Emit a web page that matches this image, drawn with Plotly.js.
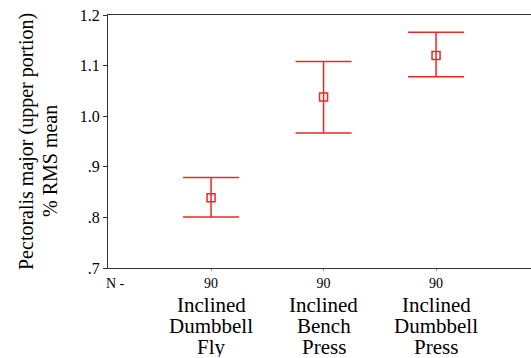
<!DOCTYPE html>
<html>
<head>
<meta charset="utf-8">
<script src="https://cdn.plot.ly/plotly-3.0.1.min.js"></script>
<style>html,body{margin:0;padding:0;background:#fff;}#chart{width:531px;height:358px;}</style>
</head>
<body>
<div id="chart"></div>
<script>
var categories = [
  ["Inclined", "Dumbbell", "Fly"],
  ["Inclined", "Bench", "Press"],
  ["Inclined", "Dumbbell", "Press"]
];
var nLabels = ["90", "90", "90"];
var means = [0.839, 1.038, 1.120];
var upper = [0.879, 1.108, 1.166];
var lower = [0.801, 0.967, 1.078];
var yTickVals = [0.7, 0.8, 0.9, 1.0, 1.1, 1.2];
var yTickText = [".7", ".8", ".9", "1.0", "1.1", "1.2"];

var xIdx = categories.map(function (c, i) { return i; });
var errPlus = means.map(function (m, i) { return upper[i] - m; });
var errMinus = means.map(function (m, i) { return m - lower[i]; });

var red = "rgb(235,40,40)";
var serif = "Liberation Serif";

var trace = {
  x: xIdx,
  y: means,
  type: "scatter",
  mode: "markers",
  marker: { symbol: "square-open", size: 8, color: red, line: { width: 1.5, color: red } },
  error_y: {
    type: "data", symmetric: false,
    array: errPlus, arrayminus: errMinus,
    color: red, thickness: 1.5, width: 28
  },
  hoverinfo: "none",
  showlegend: false
};

var annotations = [];
var lineY = [304, 325.5, 346.5];
categories.forEach(function (c, i) {
  c.forEach(function (t, j) {
    annotations.push({
      x: i, xref: "x", y: (268 - lineY[j]) / 253, yref: "paper",
      text: t, showarrow: false, xanchor: "center", yanchor: "middle",
      height: 21,
      font: { family: serif, size: 21, color: "#000" }
    });
  });
});
annotations.push({
  x: (104 - 108) / 423, xref: "paper", y: (268 - 283) / 253, yref: "paper",
  text: "N -", showarrow: false, xanchor: "left", yanchor: "middle",
  font: { family: serif, size: 14, color: "#000" }
});
annotations.push({
  x: (26 - 108) / 423, xref: "paper", y: (268 - 142) / 253, yref: "paper",
  text: "Pectoralis major (upper portion)", showarrow: false, textangle: -90,
  xanchor: "center", yanchor: "middle",
  font: { family: serif, size: 20, color: "#000" }
});
annotations.push({
  x: (50 - 108) / 423, xref: "paper", y: (268 - 161) / 253, yref: "paper",
  text: "% RMS mean", showarrow: false, textangle: -90,
  xanchor: "center", yanchor: "middle",
  font: { family: serif, size: 20, color: "#000" }
});

var layout = {
  width: 531, height: 358,
  margin: { l: 108, r: 0, t: 15, b: 90, pad: 0 },
  paper_bgcolor: "#fff", plot_bgcolor: "#fff",
  font: { family: serif, color: "#000" },
  xaxis: {
    range: [-0.916, 2.844],
    tickvals: xIdx, ticktext: nLabels,
    ticks: "outside", ticklen: 2, tickcolor: "#999",
    showgrid: false, zeroline: false,
    showline: true, linecolor: "#333", linewidth: 1, mirror: true,
    tickfont: { family: serif, size: 14, color: "#000" }
  },
  yaxis: {
    range: [0.7, 1.2],
    tickvals: yTickVals, ticktext: yTickText,
    ticks: "outside", ticklen: 4, tickcolor: "#333",
    showgrid: false, zeroline: false,
    showline: true, linecolor: "#333", linewidth: 1, mirror: false,
    tickfont: { family: serif, size: 16, color: "#000" }
  },
  annotations: annotations
};

Plotly.newPlot("chart", [trace], layout, { staticPlot: true, displayModeBar: false });
</script>
</body>
</html>
